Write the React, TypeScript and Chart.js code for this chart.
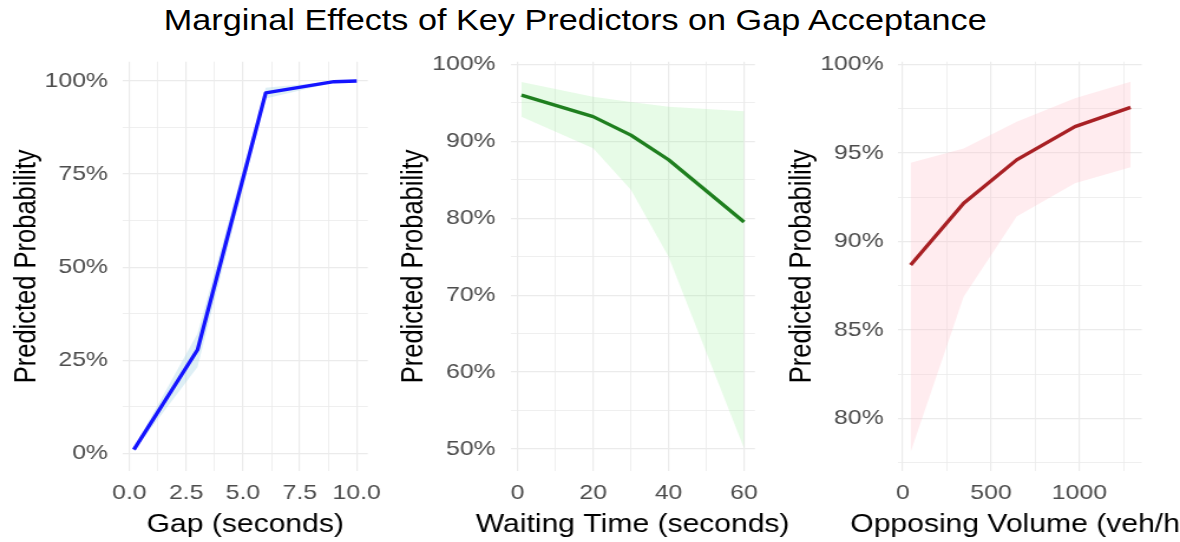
import React, { useEffect, useRef } from 'react';
import { Chart, registerables } from 'chart.js';

Chart.register(...registerables);

// ---------- text ----------
const TITLE = 'Marginal Effects of Key Predictors on Gap Acceptance';
const Y_TITLE = 'Predicted Probability';

// ---------- panel 1: gap ----------
const gapLabel = 'Gap (seconds)';
const gapX = [0.2, 3, 6, 9, 10];
const gapFit = [0.01, 0.278, 0.968, 0.998, 1.0];
const gapLower = [0.006, 0.232, 0.953, 0.996, 0.999];
const gapUpper = [0.014, 0.322, 0.982, 0.999, 1.0];
const gapXTicks = [0, 2.5, 5, 7.5, 10];
const gapXTickLabels = ['0.0', '2.5', '5.0', '7.5', '10.0'];
const gapXMinor = [1.25, 3.75, 6.25, 8.75];
const gapYTicks = [0, 0.25, 0.5, 0.75, 1];
const gapYTickLabels = ['0%', '25%', '50%', '75%', '100%'];
const gapYMinor = [0.125, 0.375, 0.625, 0.875];

// ---------- panel 2: waiting time ----------
const waitLabel = 'Waiting Time (seconds)';
const waitX = [1, 20, 30, 40, 60];
const waitFit = [0.96, 0.932, 0.908, 0.876, 0.795];
const waitLower = [0.932, 0.891, 0.837, 0.75, 0.501];
const waitUpper = [0.977, 0.958, 0.951, 0.945, 0.939];
const waitXTicks = [0, 20, 40, 60];
const waitXTickLabels = ['0', '20', '40', '60'];
const waitXMinor = [10, 30, 50];
const waitYTicks = [0.5, 0.6, 0.7, 0.8, 0.9, 1.0];
const waitYTickLabels = ['50%', '60%', '70%', '80%', '90%', '100%'];
const waitYMinor = [0.55, 0.65, 0.75, 0.85, 0.95];

// ---------- panel 3: opposing volume ----------
const volLabel = 'Opposing Volume (veh/h)';
const volX = [45, 345, 645, 975, 1290];
const volFit = [0.8866, 0.9215, 0.946, 0.9648, 0.9757];
const volLower = [0.781, 0.8687, 0.914, 0.9328, 0.9418];
const volUpper = [0.9444, 0.9525, 0.9676, 0.9808, 0.9902];
const volXTicks = [0, 500, 1000];
const volXTickLabels = ['0', '500', '1000'];
const volXMinor = [250, 750, 1250];
const volYTicks = [0.8, 0.85, 0.9, 0.95, 1.0];
const volYTickLabels = ['80%', '85%', '90%', '95%', '100%'];
const volYMinor = [0.775, 0.825, 0.875, 0.925, 0.975];

// ---------- layout (unscaled px) ----------
const W = 1000;
const H = 542;
const SCALE_X = 1.18;
const Y_AXIS_W = 104;
const X_AXIS_H = 71;
const TOP = 61.7;
const FONT = '"Liberation Sans", Arial, Helvetica, sans-serif';

type Panel = {
  xLabel: string;
  x: number[];
  fit: number[];
  lower: number[];
  upper: number[];
  xTicks: number[];
  xTickLabels: string[];
  xMinor: number[];
  yTicks: number[];
  yTickLabels: string[];
  yMinor: number[];
  xMin: number;
  xMax: number;
  yMin: number;
  yMax: number;
  line: string;
  ribbon: string;
  left: number;
  right: number;
};

const panels: Panel[] = [
  {
    xLabel: gapLabel, x: gapX, fit: gapFit, lower: gapLower, upper: gapUpper,
    xTicks: gapXTicks, xTickLabels: gapXTickLabels, xMinor: gapXMinor,
    yTicks: gapYTicks, yTickLabels: gapYTickLabels, yMinor: gapYMinor,
    xMin: -0.29, xMax: 10.49, yMin: -0.0475, yMax: 1.0518,
    line: '#1414ff', ribbon: 'rgba(173,216,230,0.4)', left: 104, right: 311.7,
  },
  {
    xLabel: waitLabel, x: waitX, fit: waitFit, lower: waitLower, upper: waitUpper,
    xTicks: waitXTicks, xTickLabels: waitXTickLabels, xMinor: waitXMinor,
    yTicks: waitYTicks, yTickLabels: waitYTickLabels, yMinor: waitYMinor,
    xMin: -1.94, xMax: 62.9, yMin: 0.4714, yMax: 1.0034,
    line: '#1f7f1f', ribbon: 'rgba(144,238,144,0.22)', left: 432.5, right: 639.8,
  },
  {
    xLabel: volLabel, x: volX, fit: volFit, lower: volLower, upper: volUpper,
    xTicks: volXTicks, xTickLabels: volXTickLabels, xMinor: volXMinor,
    yTicks: volYTicks, yTickLabels: volYTickLabels, yMinor: volYMinor,
    xMin: -24, xMax: 1352.7, yMin: 0.7702, yMax: 1.0015,
    line: '#a82024', ribbon: 'rgba(255,192,203,0.3)', left: 761.4, right: 967.5,
  },
];

const near = (arr: number[], v: number) => arr.findIndex((m) => Math.abs(m - v) < 1e-9);

const axisTitles = {
  id: 'axisTitles',
  afterDraw(chart: any, _args: any, opts: any) {
    const { ctx, chartArea } = chart;
    ctx.save();
    ctx.fillStyle = '#000000';
    ctx.font = `25.5px ${FONT}`;
    ctx.textAlign = 'center';
    ctx.textBaseline = 'alphabetic';
    ctx.fillText(opts.x, (chartArea.left + chartArea.right) / 2, opts.xBaseline);
    ctx.translate(chartArea.left - opts.yOffset, (chartArea.top + chartArea.bottom) / 2);
    ctx.rotate(-Math.PI / 2);
    ctx.fillText(opts.y, 0, 0);
    ctx.restore();
  },
};

function scaleOpts(major: number[], labels: string[], minor: number[], min: number, max: number, isX: boolean) {
  return {
    type: 'linear',
    min,
    max,
    border: { display: false },
    grid: {
      color: '#ebebeb',
      drawTicks: false,
      lineWidth: (c: any) => (c.tick && near(major, c.tick.value) >= 0 ? 1.2 : 0.8),
    },
    ticks: {
      autoSkip: false,
      maxRotation: 0,
      padding: isX ? 10 : 12.5,
      color: '#4d4d4d',
      font: { family: FONT, size: 21 },
      callback: (v: number) => {
        const i = near(major, v);
        return i >= 0 ? labels[i] : '';
      },
    },
    afterBuildTicks: (s: any) => {
      s.ticks = [...major, ...minor].sort((a, b) => a - b).map((value) => ({ value }));
    },
    afterFit: (s: any) => {
      if (isX) s.height = X_AXIS_H;
      else s.width = Y_AXIS_W;
    },
  };
}

function PanelChart({ p }: { p: Panel }) {
  const ref = useRef<HTMLCanvasElement | null>(null);
  useEffect(() => {
    if (!ref.current) return;
    const pts = (ys: number[]) => p.x.map((x, i) => ({ x, y: ys[i] }));
    const chart = new Chart(ref.current, {
      type: 'line',
      data: {
        datasets: [
          {
            data: pts(p.fit),
            borderColor: p.line,
            borderWidth: 3.3,
            borderJoinStyle: 'round',
            pointRadius: 0,
            fill: false,
            tension: 0,
          },
          {
            data: pts(p.upper),
            borderColor: 'rgba(0,0,0,0)',
            borderWidth: 0,
            backgroundColor: p.ribbon,
            pointRadius: 0,
            fill: '+1',
            tension: 0,
          },
          {
            data: pts(p.lower),
            borderColor: 'rgba(0,0,0,0)',
            borderWidth: 0,
            pointRadius: 0,
            fill: false,
            tension: 0,
          },
        ],
      } as any,
      options: {
        responsive: false,
        animation: false,
        events: [],
        layout: {
          padding: { left: p.left - Y_AXIS_W, right: W - p.right, top: TOP, bottom: 0 },
        },
        scales: {
          x: scaleOpts(p.xTicks, p.xTickLabels, p.xMinor, p.xMin, p.xMax, true),
          y: scaleOpts(p.yTicks, p.yTickLabels, p.yMinor, p.yMin, p.yMax, false),
        } as any,
        plugins: {
          legend: { display: false },
          tooltip: { enabled: false },
          axisTitles: { x: p.xLabel, xBaseline: 532, y: Y_TITLE, yOffset: 74.5 },
        } as any,
      },
      plugins: [axisTitles as any],
    });
    return () => chart.destroy();
  }, [p]);
  return (
    <canvas
      ref={ref}
      width={W}
      height={H}
      style={{ position: 'absolute', left: 0, top: 0, width: W, height: H }}
    />
  );
}

export default function App() {
  return (
    <div
      style={{
        position: 'absolute',
        left: 0,
        top: 0,
        width: W,
        height: H,
        transform: `scaleX(${SCALE_X})`,
        transformOrigin: '0 0',
        background: '#ffffff',
      }}
    >
      <div
        style={{
          position: 'absolute',
          left: 0,
          top: 5.6,
          width: 975,
          textAlign: 'center',
          fontFamily: FONT,
          fontSize: 29,
          lineHeight: '29px',
          color: '#000000',
          whiteSpace: 'nowrap',
        }}
      >
        {TITLE}
      </div>
      {panels.map((p, i) => (
        <PanelChart key={i} p={p} />
      ))}
    </div>
  );
}
